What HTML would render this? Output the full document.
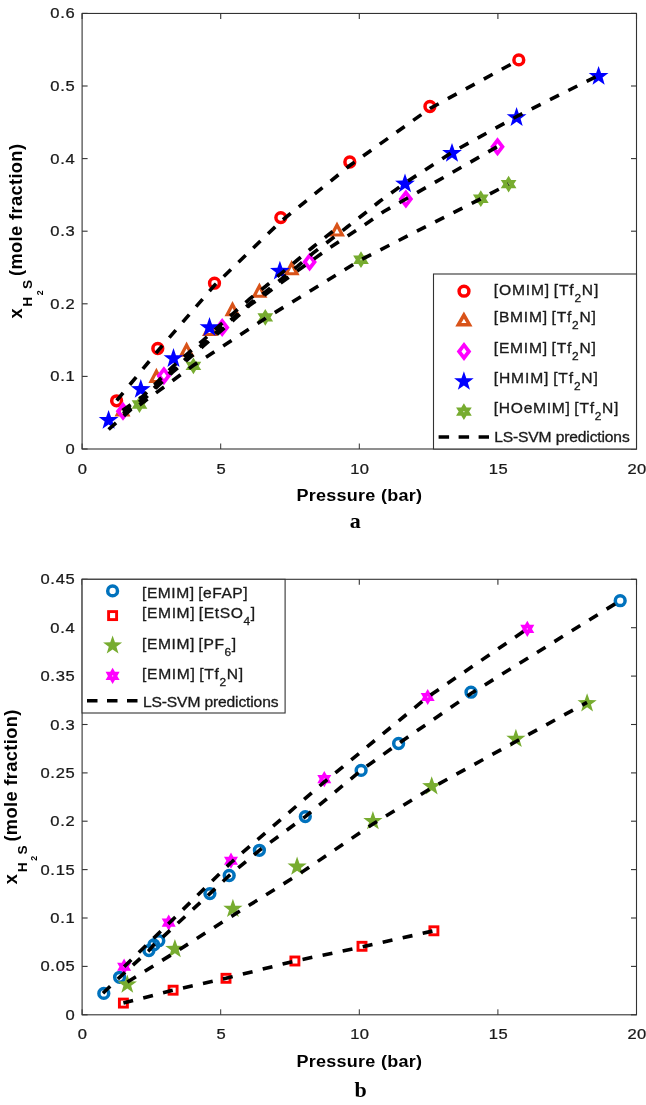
<!DOCTYPE html>
<html><head><meta charset="utf-8"><style>
html,body{margin:0;padding:0;background:#fff;}
body{width:646px;height:1105px;overflow:hidden;}
svg{display:block;will-change:transform;}
.tk{font-family:"Liberation Sans",sans-serif;font-size:13.8px;fill:#1a1a1a;letter-spacing:0.6px;stroke:#1a1a1a;stroke-width:0.25px;}
.tx{font-family:"Liberation Sans",sans-serif;font-size:13.8px;fill:#1a1a1a;letter-spacing:0.3px;stroke:#1a1a1a;stroke-width:0.25px;}
.lg{font-family:"Liberation Sans",sans-serif;font-size:14.2px;fill:#1a1a1a;stroke:#1a1a1a;stroke-width:0.3px;}
.lb{font-family:"Liberation Sans",sans-serif;font-size:16px;font-weight:bold;fill:#000;}
.cap{font-family:"Liberation Serif",serif;font-size:22px;font-weight:bold;fill:#000;}
</style></head><body>
<svg width="646" height="1105" viewBox="0 0 646 1105">
<rect width="646" height="1105" fill="#fff"/>
<rect x="82.1" y="13.45" width="554.40" height="435.55" fill="none" stroke="#333333" stroke-width="1.1"/>
<line x1="82.1" y1="449.0" x2="82.1" y2="443.5" stroke="#333333" stroke-width="1.0"/>
<line x1="82.1" y1="13.45" x2="82.1" y2="18.95" stroke="#333333" stroke-width="1.1"/>
<text transform="translate(82.6,473.6) scale(1.2,1)" text-anchor="middle" class="tx">0</text>
<line x1="220.7" y1="449.0" x2="220.7" y2="443.5" stroke="#333333" stroke-width="1.0"/>
<line x1="220.7" y1="13.45" x2="220.7" y2="18.95" stroke="#333333" stroke-width="1.1"/>
<text transform="translate(221.2,473.6) scale(1.2,1)" text-anchor="middle" class="tx">5</text>
<line x1="359.3" y1="449.0" x2="359.3" y2="443.5" stroke="#333333" stroke-width="1.0"/>
<line x1="359.3" y1="13.45" x2="359.3" y2="18.95" stroke="#333333" stroke-width="1.1"/>
<text transform="translate(359.8,473.6) scale(1.2,1)" text-anchor="middle" class="tx">10</text>
<line x1="497.9" y1="449.0" x2="497.9" y2="443.5" stroke="#333333" stroke-width="1.0"/>
<line x1="497.9" y1="13.45" x2="497.9" y2="18.95" stroke="#333333" stroke-width="1.1"/>
<text transform="translate(498.4,473.6) scale(1.2,1)" text-anchor="middle" class="tx">15</text>
<line x1="636.5" y1="449.0" x2="636.5" y2="443.5" stroke="#333333" stroke-width="1.0"/>
<line x1="636.5" y1="13.45" x2="636.5" y2="18.95" stroke="#333333" stroke-width="1.1"/>
<text transform="translate(637.0,473.6) scale(1.2,1)" text-anchor="middle" class="tx">20</text>
<line x1="82.1" y1="449.0" x2="87.6" y2="449.0" stroke="#333333" stroke-width="1.1"/>
<line x1="636.5" y1="449.0" x2="631.0" y2="449.0" stroke="#333333" stroke-width="1.1"/>
<text transform="translate(75.5,454.0) scale(1.2,1)" text-anchor="end" class="tk">0</text>
<line x1="82.1" y1="376.4" x2="87.6" y2="376.4" stroke="#333333" stroke-width="1.1"/>
<line x1="636.5" y1="376.4" x2="631.0" y2="376.4" stroke="#333333" stroke-width="1.1"/>
<text transform="translate(75.5,381.4) scale(1.2,1)" text-anchor="end" class="tk">0.1</text>
<line x1="82.1" y1="303.8" x2="87.6" y2="303.8" stroke="#333333" stroke-width="1.1"/>
<line x1="636.5" y1="303.8" x2="631.0" y2="303.8" stroke="#333333" stroke-width="1.1"/>
<text transform="translate(75.5,308.8) scale(1.2,1)" text-anchor="end" class="tk">0.2</text>
<line x1="82.1" y1="231.2" x2="87.6" y2="231.2" stroke="#333333" stroke-width="1.1"/>
<line x1="636.5" y1="231.2" x2="631.0" y2="231.2" stroke="#333333" stroke-width="1.1"/>
<text transform="translate(75.5,236.2) scale(1.2,1)" text-anchor="end" class="tk">0.3</text>
<line x1="82.1" y1="158.6" x2="87.6" y2="158.6" stroke="#333333" stroke-width="1.1"/>
<line x1="636.5" y1="158.6" x2="631.0" y2="158.6" stroke="#333333" stroke-width="1.1"/>
<text transform="translate(75.5,163.6) scale(1.2,1)" text-anchor="end" class="tk">0.4</text>
<line x1="82.1" y1="86.0" x2="87.6" y2="86.0" stroke="#333333" stroke-width="1.1"/>
<line x1="636.5" y1="86.0" x2="631.0" y2="86.0" stroke="#333333" stroke-width="1.1"/>
<text transform="translate(75.5,91.0) scale(1.2,1)" text-anchor="end" class="tk">0.5</text>
<line x1="82.1" y1="13.4" x2="87.6" y2="13.4" stroke="#333333" stroke-width="1.1"/>
<line x1="636.5" y1="13.4" x2="631.0" y2="13.4" stroke="#333333" stroke-width="1.1"/>
<text transform="translate(75.5,18.4) scale(1.2,1)" text-anchor="end" class="tk">0.6</text>
<circle cx="116.6" cy="400.8" r="4.9" fill="none" stroke="#FF0000" stroke-width="3.5"/>
<circle cx="157.8" cy="348.5" r="4.9" fill="none" stroke="#FF0000" stroke-width="3.5"/>
<circle cx="214.5" cy="283.2" r="4.9" fill="none" stroke="#FF0000" stroke-width="3.5"/>
<circle cx="280.8" cy="217.6" r="4.9" fill="none" stroke="#FF0000" stroke-width="3.5"/>
<circle cx="349.8" cy="162.0" r="4.9" fill="none" stroke="#FF0000" stroke-width="3.5"/>
<circle cx="429.9" cy="106.5" r="4.9" fill="none" stroke="#FF0000" stroke-width="3.5"/>
<circle cx="518.8" cy="59.9" r="4.9" fill="none" stroke="#FF0000" stroke-width="3.5"/>
<path d="M122.50,401.40 L114.50,416.60 L130.50,416.60Z M122.50,408.40 L119.80,413.60 L125.20,413.60Z" fill="#D95319" fill-rule="evenodd"/>
<path d="M156.40,367.80 L148.40,383.00 L164.40,383.00Z M156.40,374.80 L153.70,380.00 L159.10,380.00Z" fill="#D95319" fill-rule="evenodd"/>
<path d="M186.60,341.60 L178.60,356.80 L194.60,356.80Z M186.60,348.60 L183.90,353.80 L189.30,353.80Z" fill="#D95319" fill-rule="evenodd"/>
<path d="M210.00,320.90 L202.00,336.10 L218.00,336.10Z M210.00,327.90 L207.30,333.10 L212.70,333.10Z" fill="#D95319" fill-rule="evenodd"/>
<path d="M232.50,301.00 L224.50,316.20 L240.50,316.20Z M232.50,308.00 L229.80,313.20 L235.20,313.20Z" fill="#D95319" fill-rule="evenodd"/>
<path d="M259.40,282.50 L251.40,297.70 L267.40,297.70Z M259.40,289.50 L256.70,294.70 L262.10,294.70Z" fill="#D95319" fill-rule="evenodd"/>
<path d="M291.60,260.10 L283.60,275.30 L299.60,275.30Z M291.60,267.10 L288.90,272.30 L294.30,272.30Z" fill="#D95319" fill-rule="evenodd"/>
<path d="M337.00,221.40 L329.00,236.60 L345.00,236.60Z M337.00,228.40 L334.30,233.60 L339.70,233.60Z" fill="#D95319" fill-rule="evenodd"/>
<path d="M123.00,401.80 L130.30,411.30 L123.00,420.80 L115.70,411.30Z M123.00,407.90 L125.55,411.30 L123.00,414.70 L120.45,411.30Z" fill="#FF00FF" fill-rule="evenodd"/>
<path d="M163.90,366.20 L171.20,375.70 L163.90,385.20 L156.60,375.70Z M163.90,372.30 L166.45,375.70 L163.90,379.10 L161.35,375.70Z" fill="#FF00FF" fill-rule="evenodd"/>
<path d="M222.20,317.90 L229.50,327.40 L222.20,336.90 L214.90,327.40Z M222.20,324.00 L224.75,327.40 L222.20,330.80 L219.65,327.40Z" fill="#FF00FF" fill-rule="evenodd"/>
<path d="M309.60,252.40 L316.90,261.90 L309.60,271.40 L302.30,261.90Z M309.60,258.50 L312.15,261.90 L309.60,265.30 L307.05,261.90Z" fill="#FF00FF" fill-rule="evenodd"/>
<path d="M405.90,189.60 L413.20,199.10 L405.90,208.60 L398.60,199.10Z M405.90,195.70 L408.45,199.10 L405.90,202.50 L403.35,199.10Z" fill="#FF00FF" fill-rule="evenodd"/>
<path d="M497.50,137.30 L504.80,146.80 L497.50,156.30 L490.20,146.80Z M497.50,143.40 L500.05,146.80 L497.50,150.20 L494.95,146.80Z" fill="#FF00FF" fill-rule="evenodd"/>
<path d="M108.60,409.90 L111.05,416.93 L118.49,417.09 L112.56,421.59 L114.71,428.71 L108.60,424.46 L102.49,428.71 L104.64,421.59 L98.71,417.09 L106.15,416.93Z" fill="#0000FF"/>
<path d="M140.80,379.00 L143.25,386.03 L150.69,386.19 L144.76,390.69 L146.91,397.81 L140.80,393.56 L134.69,397.81 L136.84,390.69 L130.91,386.19 L138.35,386.03Z" fill="#0000FF"/>
<path d="M173.50,348.10 L175.95,355.13 L183.39,355.29 L177.46,359.79 L179.61,366.91 L173.50,362.66 L167.39,366.91 L169.54,359.79 L163.61,355.29 L171.05,355.13Z" fill="#0000FF"/>
<path d="M209.50,317.10 L211.95,324.13 L219.39,324.29 L213.46,328.79 L215.61,335.91 L209.50,331.66 L203.39,335.91 L205.54,328.79 L199.61,324.29 L207.05,324.13Z" fill="#0000FF"/>
<path d="M279.90,260.80 L282.35,267.83 L289.79,267.99 L283.86,272.49 L286.01,279.61 L279.90,275.36 L273.79,279.61 L275.94,272.49 L270.01,267.99 L277.45,267.83Z" fill="#0000FF"/>
<path d="M405.00,173.50 L407.45,180.53 L414.89,180.69 L408.96,185.19 L411.11,192.31 L405.00,188.06 L398.89,192.31 L401.04,185.19 L395.11,180.69 L402.55,180.53Z" fill="#0000FF"/>
<path d="M452.00,142.90 L454.45,149.93 L461.89,150.09 L455.96,154.59 L458.11,161.71 L452.00,157.46 L445.89,161.71 L448.04,154.59 L442.11,150.09 L449.55,149.93Z" fill="#0000FF"/>
<path d="M516.60,107.10 L519.05,114.13 L526.49,114.29 L520.56,118.79 L522.71,125.91 L516.60,121.66 L510.49,125.91 L512.64,118.79 L506.71,114.29 L514.15,114.13Z" fill="#0000FF"/>
<path d="M598.60,65.90 L601.05,72.93 L608.49,73.09 L602.56,77.59 L604.71,84.71 L598.60,80.46 L592.49,84.71 L594.64,77.59 L588.71,73.09 L596.15,72.93Z" fill="#0000FF"/>
<path d="M139.50,396.10 L142.12,400.30 L147.36,400.30 L144.73,404.50 L147.36,408.70 L142.12,408.70 L139.50,412.90 L136.88,408.70 L131.64,408.70 L134.27,404.50 L131.64,400.30 L136.88,400.30Z" fill="#77AC30"/><rect x="138.90" y="403.90" width="1.2" height="1.2" fill="#fff" opacity="0.8"/>
<path d="M193.40,357.50 L196.02,361.70 L201.26,361.70 L198.63,365.90 L201.26,370.10 L196.02,370.10 L193.40,374.30 L190.78,370.10 L185.54,370.10 L188.17,365.90 L185.54,361.70 L190.78,361.70Z" fill="#77AC30"/><rect x="192.80" y="365.30" width="1.2" height="1.2" fill="#fff" opacity="0.8"/>
<path d="M265.30,309.00 L267.92,313.20 L273.16,313.20 L270.53,317.40 L273.16,321.60 L267.92,321.60 L265.30,325.80 L262.68,321.60 L257.44,321.60 L260.07,317.40 L257.44,313.20 L262.68,313.20Z" fill="#77AC30"/><rect x="264.70" y="316.80" width="1.2" height="1.2" fill="#fff" opacity="0.8"/>
<path d="M361.00,251.30 L363.62,255.50 L368.86,255.50 L366.23,259.70 L368.86,263.90 L363.62,263.90 L361.00,268.10 L358.38,263.90 L353.14,263.90 L355.77,259.70 L353.14,255.50 L358.38,255.50Z" fill="#77AC30"/><rect x="360.40" y="259.10" width="1.2" height="1.2" fill="#fff" opacity="0.8"/>
<path d="M480.80,190.30 L483.42,194.50 L488.66,194.50 L486.03,198.70 L488.66,202.90 L483.42,202.90 L480.80,207.10 L478.18,202.90 L472.94,202.90 L475.57,198.70 L472.94,194.50 L478.18,194.50Z" fill="#77AC30"/><rect x="480.20" y="198.10" width="1.2" height="1.2" fill="#fff" opacity="0.8"/>
<path d="M508.60,175.70 L511.22,179.90 L516.46,179.90 L513.83,184.10 L516.46,188.30 L511.22,188.30 L508.60,192.50 L505.98,188.30 L500.74,188.30 L503.37,184.10 L500.74,179.90 L505.98,179.90Z" fill="#77AC30"/><rect x="508.00" y="183.50" width="1.2" height="1.2" fill="#fff" opacity="0.8"/>
<polyline points="116.7,400.5 158.2,350.5 214.5,285.3 280.8,221.5 349.8,165.5 429.9,108.5 518.8,60.0" fill="none" stroke="#000" stroke-width="3.6" stroke-dasharray="10.0 10.49" stroke-dashoffset="0.00"/>
<polyline points="122.5,410.5 143.2,396.0 172.3,367.0 203.4,340.0 234.7,312.0 250.0,298.6 266.0,286.0 297.4,260.0 313.0,247.0 337.0,228.0" fill="none" stroke="#000" stroke-width="3.6" stroke-dasharray="10.0 10.49" stroke-dashoffset="0.00"/>
<polyline points="123.0,413.5 143.2,400.0 172.3,372.5 203.4,346.0 234.7,319.0 250.0,305.0 266.0,294.0 297.4,270.8 313.0,259.7 330.0,247.5 352.9,232.6 369.5,221.5 383.5,211.7 405.9,199.0 497.5,146.6" fill="none" stroke="#000" stroke-width="3.6" stroke-dasharray="10.0 10.49" stroke-dashoffset="0.00"/>
<polyline points="108.6,429.5 143.2,398.5 172.3,370.5 203.4,343.5 234.7,316.5 250.0,303.5 266.0,291.5 297.4,266.3 313.0,253.1 329.0,241.0 347.5,226.8 363.3,214.5 379.5,201.5 405.0,183.0 452.0,152.3 516.6,116.5 598.6,75.3" fill="none" stroke="#000" stroke-width="3.6" stroke-dasharray="10.0 10.49" stroke-dashoffset="0.00"/>
<polyline points="139.5,405.0 193.2,365.5 265.3,318.5 361.0,259.7 480.8,198.7 508.6,184.1" fill="none" stroke="#000" stroke-width="3.6" stroke-dasharray="10.0 10.49" stroke-dashoffset="0.00"/>
<rect x="433.5" y="274.0" width="203.00" height="175.00" fill="#fff" stroke="#333333" stroke-width="1.1"/>
<circle cx="464.0" cy="291.2" r="4.9" fill="none" stroke="#FF0000" stroke-width="3.5"/>
<path d="M463.90,311.50 L455.30,326.60 L472.50,326.60Z M463.90,318.70 L461.35,322.90 L466.45,322.90Z" fill="#D95319" fill-rule="evenodd"/>
<path d="M464.00,341.90 L471.30,351.40 L464.00,360.90 L456.70,351.40Z M464.00,348.00 L466.55,351.40 L464.00,354.80 L461.45,351.40Z" fill="#FF00FF" fill-rule="evenodd"/>
<path d="M463.90,371.20 L466.32,378.17 L473.70,378.32 L467.82,382.77 L469.95,389.83 L463.90,385.62 L457.85,389.83 L459.98,382.77 L454.10,378.32 L461.48,378.17Z" fill="#0000FF"/>
<path d="M463.90,403.20 L466.52,407.40 L471.76,407.40 L469.13,411.60 L471.76,415.80 L466.52,415.80 L463.90,420.00 L461.28,415.80 L456.04,415.80 L458.67,411.60 L456.04,407.40 L461.28,407.40Z" fill="#77AC30"/><rect x="463.30" y="411.00" width="1.2" height="1.2" fill="#fff" opacity="0.8"/>
<line x1="438.6" y1="437" x2="489" y2="437" stroke="#000" stroke-width="3.6" stroke-dasharray="10.5 9.5"/>
<text transform="translate(493.8,294.5) scale(1.1,1)" class="lg" textLength="95.00" lengthAdjust="spacing">[OMIM] [Tf<tspan dy="7" font-size="10.8">2</tspan><tspan dy="-7">N]</tspan></text>
<text transform="translate(493.8,322.2) scale(1.1,1)" class="lg" textLength="92.73" lengthAdjust="spacing">[BMIM] [Tf<tspan dy="7" font-size="10.8">2</tspan><tspan dy="-7">N]</tspan></text>
<text transform="translate(493.8,352.8) scale(1.1,1)" class="lg" textLength="92.73" lengthAdjust="spacing">[EMIM] [Tf<tspan dy="7" font-size="10.8">2</tspan><tspan dy="-7">N]</tspan></text>
<text transform="translate(493.8,382.6) scale(1.1,1)" class="lg" textLength="94.55" lengthAdjust="spacing">[HMIM] [Tf<tspan dy="7" font-size="10.8">2</tspan><tspan dy="-7">N]</tspan></text>
<text transform="translate(493.8,413.2) scale(1.1,1)" class="lg" textLength="113.18" lengthAdjust="spacing">[HOeMIM] [Tf<tspan dy="7" font-size="10.8">2</tspan><tspan dy="-7">N]</tspan></text>
<text transform="translate(494.2,442.4) scale(1.1,1)" class="lg" textLength="123.18" lengthAdjust="spacing">LS-SVM predictions</text>
<text transform="translate(359.2,501) scale(1.1,1)" text-anchor="middle" class="lb" style="font-size:16.4px" textLength="114.09" lengthAdjust="spacing">Pressure (bar)</text>
<text x="355.3" y="528" text-anchor="middle" class="cap">a</text>
<text transform="translate(22.2,318.6) rotate(-90)" class="lb" style="font-size:18.3px" >x</text>
<text transform="translate(32.2,306.7) rotate(-90)" class="lb" style="font-size:13.7px" >H</text>
<text transform="translate(42.6,295.2) rotate(-90)" class="lb" style="font-size:8.8px" >2</text>
<text transform="translate(32.2,289.0) rotate(-90)" class="lb" style="font-size:13.7px" >S</text>
<text transform="translate(22.2,276.0) rotate(-90)" class="lb" style="font-size:18.3px" textLength="132" lengthAdjust="spacing">(mole fraction)</text>
<rect x="82.1" y="579.3" width="554.40" height="435.50" fill="none" stroke="#333333" stroke-width="1.1"/>
<line x1="82.1" y1="1014.8" x2="82.1" y2="1009.3" stroke="#333333" stroke-width="1.0"/>
<line x1="82.1" y1="579.3" x2="82.1" y2="584.8" stroke="#333333" stroke-width="1.1"/>
<text transform="translate(82.6,1039.3999999999999) scale(1.2,1)" text-anchor="middle" class="tx">0</text>
<line x1="220.7" y1="1014.8" x2="220.7" y2="1009.3" stroke="#333333" stroke-width="1.0"/>
<line x1="220.7" y1="579.3" x2="220.7" y2="584.8" stroke="#333333" stroke-width="1.1"/>
<text transform="translate(221.2,1039.3999999999999) scale(1.2,1)" text-anchor="middle" class="tx">5</text>
<line x1="359.3" y1="1014.8" x2="359.3" y2="1009.3" stroke="#333333" stroke-width="1.0"/>
<line x1="359.3" y1="579.3" x2="359.3" y2="584.8" stroke="#333333" stroke-width="1.1"/>
<text transform="translate(359.8,1039.3999999999999) scale(1.2,1)" text-anchor="middle" class="tx">10</text>
<line x1="497.9" y1="1014.8" x2="497.9" y2="1009.3" stroke="#333333" stroke-width="1.0"/>
<line x1="497.9" y1="579.3" x2="497.9" y2="584.8" stroke="#333333" stroke-width="1.1"/>
<text transform="translate(498.4,1039.3999999999999) scale(1.2,1)" text-anchor="middle" class="tx">15</text>
<line x1="636.5" y1="1014.8" x2="636.5" y2="1009.3" stroke="#333333" stroke-width="1.0"/>
<line x1="636.5" y1="579.3" x2="636.5" y2="584.8" stroke="#333333" stroke-width="1.1"/>
<text transform="translate(637.0,1039.3999999999999) scale(1.2,1)" text-anchor="middle" class="tx">20</text>
<line x1="82.1" y1="1014.8" x2="87.6" y2="1014.8" stroke="#333333" stroke-width="1.1"/>
<line x1="636.5" y1="1014.8" x2="631.0" y2="1014.8" stroke="#333333" stroke-width="1.1"/>
<text transform="translate(75.5,1019.8) scale(1.2,1)" text-anchor="end" class="tk">0</text>
<line x1="82.1" y1="966.4" x2="87.6" y2="966.4" stroke="#333333" stroke-width="1.1"/>
<line x1="636.5" y1="966.4" x2="631.0" y2="966.4" stroke="#333333" stroke-width="1.1"/>
<text transform="translate(75.5,971.4) scale(1.2,1)" text-anchor="end" class="tk">0.05</text>
<line x1="82.1" y1="918.0" x2="87.6" y2="918.0" stroke="#333333" stroke-width="1.1"/>
<line x1="636.5" y1="918.0" x2="631.0" y2="918.0" stroke="#333333" stroke-width="1.1"/>
<text transform="translate(75.5,923.0) scale(1.2,1)" text-anchor="end" class="tk">0.1</text>
<line x1="82.1" y1="869.6" x2="87.6" y2="869.6" stroke="#333333" stroke-width="1.1"/>
<line x1="636.5" y1="869.6" x2="631.0" y2="869.6" stroke="#333333" stroke-width="1.1"/>
<text transform="translate(75.5,874.6) scale(1.2,1)" text-anchor="end" class="tk">0.15</text>
<line x1="82.1" y1="821.2" x2="87.6" y2="821.2" stroke="#333333" stroke-width="1.1"/>
<line x1="636.5" y1="821.2" x2="631.0" y2="821.2" stroke="#333333" stroke-width="1.1"/>
<text transform="translate(75.5,826.2) scale(1.2,1)" text-anchor="end" class="tk">0.2</text>
<line x1="82.1" y1="772.9" x2="87.6" y2="772.9" stroke="#333333" stroke-width="1.1"/>
<line x1="636.5" y1="772.9" x2="631.0" y2="772.9" stroke="#333333" stroke-width="1.1"/>
<text transform="translate(75.5,777.9) scale(1.2,1)" text-anchor="end" class="tk">0.25</text>
<line x1="82.1" y1="724.5" x2="87.6" y2="724.5" stroke="#333333" stroke-width="1.1"/>
<line x1="636.5" y1="724.5" x2="631.0" y2="724.5" stroke="#333333" stroke-width="1.1"/>
<text transform="translate(75.5,729.5) scale(1.2,1)" text-anchor="end" class="tk">0.3</text>
<line x1="82.1" y1="676.1" x2="87.6" y2="676.1" stroke="#333333" stroke-width="1.1"/>
<line x1="636.5" y1="676.1" x2="631.0" y2="676.1" stroke="#333333" stroke-width="1.1"/>
<text transform="translate(75.5,681.1) scale(1.2,1)" text-anchor="end" class="tk">0.35</text>
<line x1="82.1" y1="627.7" x2="87.6" y2="627.7" stroke="#333333" stroke-width="1.1"/>
<line x1="636.5" y1="627.7" x2="631.0" y2="627.7" stroke="#333333" stroke-width="1.1"/>
<text transform="translate(75.5,632.7) scale(1.2,1)" text-anchor="end" class="tk">0.4</text>
<line x1="82.1" y1="579.3" x2="87.6" y2="579.3" stroke="#333333" stroke-width="1.1"/>
<line x1="636.5" y1="579.3" x2="631.0" y2="579.3" stroke="#333333" stroke-width="1.1"/>
<text transform="translate(75.5,584.3) scale(1.2,1)" text-anchor="end" class="tk">0.45</text>
<circle cx="103.8" cy="993.4" r="4.9" fill="none" stroke="#0072BD" stroke-width="3.5"/>
<circle cx="119.6" cy="977.3" r="4.9" fill="none" stroke="#0072BD" stroke-width="3.5"/>
<circle cx="148.9" cy="950.6" r="4.9" fill="none" stroke="#0072BD" stroke-width="3.5"/>
<circle cx="153.8" cy="944.9" r="4.9" fill="none" stroke="#0072BD" stroke-width="3.5"/>
<circle cx="158.8" cy="940.7" r="4.9" fill="none" stroke="#0072BD" stroke-width="3.5"/>
<circle cx="209.9" cy="893.6" r="4.9" fill="none" stroke="#0072BD" stroke-width="3.5"/>
<circle cx="229.2" cy="875.5" r="4.9" fill="none" stroke="#0072BD" stroke-width="3.5"/>
<circle cx="259.4" cy="850.3" r="4.9" fill="none" stroke="#0072BD" stroke-width="3.5"/>
<circle cx="305.3" cy="816.6" r="4.9" fill="none" stroke="#0072BD" stroke-width="3.5"/>
<circle cx="361.1" cy="770.4" r="4.9" fill="none" stroke="#0072BD" stroke-width="3.5"/>
<circle cx="398.6" cy="743.5" r="4.9" fill="none" stroke="#0072BD" stroke-width="3.5"/>
<circle cx="471.0" cy="692.2" r="4.9" fill="none" stroke="#0072BD" stroke-width="3.5"/>
<circle cx="620.2" cy="600.7" r="4.9" fill="none" stroke="#0072BD" stroke-width="3.5"/>
<rect x="119.40" y="999.10" width="8.0" height="8.0" fill="none" stroke="#FF0000" stroke-width="2.9"/>
<rect x="169.10" y="986.20" width="8.0" height="8.0" fill="none" stroke="#FF0000" stroke-width="2.9"/>
<rect x="222.00" y="974.30" width="8.0" height="8.0" fill="none" stroke="#FF0000" stroke-width="2.9"/>
<rect x="290.90" y="957.00" width="8.0" height="8.0" fill="none" stroke="#FF0000" stroke-width="2.9"/>
<rect x="358.00" y="942.30" width="8.0" height="8.0" fill="none" stroke="#FF0000" stroke-width="2.9"/>
<rect x="429.90" y="926.80" width="8.0" height="8.0" fill="none" stroke="#FF0000" stroke-width="2.9"/>
<path d="M127.30,974.40 L129.67,981.23 L136.91,981.38 L131.14,985.75 L133.24,992.67 L127.30,988.54 L121.36,992.67 L123.46,985.75 L117.69,981.38 L124.93,981.23Z" fill="#77AC30"/>
<path d="M174.90,939.00 L177.27,945.83 L184.51,945.98 L178.74,950.35 L180.84,957.27 L174.90,953.14 L168.96,957.27 L171.06,950.35 L165.29,945.98 L172.53,945.83Z" fill="#77AC30"/>
<path d="M232.90,898.80 L235.27,905.63 L242.51,905.78 L236.74,910.15 L238.84,917.07 L232.90,912.94 L226.96,917.07 L229.06,910.15 L223.29,905.78 L230.53,905.63Z" fill="#77AC30"/>
<path d="M297.10,856.60 L299.47,863.43 L306.71,863.58 L300.94,867.95 L303.04,874.87 L297.10,870.74 L291.16,874.87 L293.26,867.95 L287.49,863.58 L294.73,863.43Z" fill="#77AC30"/>
<path d="M372.90,811.10 L375.27,817.93 L382.51,818.08 L376.74,822.45 L378.84,829.37 L372.90,825.24 L366.96,829.37 L369.06,822.45 L363.29,818.08 L370.53,817.93Z" fill="#77AC30"/>
<path d="M431.70,776.20 L434.07,783.03 L441.31,783.18 L435.54,787.55 L437.64,794.47 L431.70,790.34 L425.76,794.47 L427.86,787.55 L422.09,783.18 L429.33,783.03Z" fill="#77AC30"/>
<path d="M515.90,728.80 L518.27,735.63 L525.51,735.78 L519.74,740.15 L521.84,747.07 L515.90,742.94 L509.96,747.07 L512.06,740.15 L506.29,735.78 L513.53,735.63Z" fill="#77AC30"/>
<path d="M587.10,693.20 L589.47,700.03 L596.71,700.18 L590.94,704.55 L593.04,711.47 L587.10,707.34 L581.16,711.47 L583.26,704.55 L577.49,700.18 L584.73,700.03Z" fill="#77AC30"/>
<path d="M124.10,958.60 L126.44,962.65 L131.11,962.65 L128.77,966.70 L131.11,970.75 L126.44,970.75 L124.10,974.80 L121.76,970.75 L117.09,970.75 L119.43,966.70 L117.09,962.65 L121.76,962.65Z" fill="#FF00FF"/><rect x="123.50" y="966.10" width="1.2" height="1.2" fill="#fff" opacity="0.8"/>
<path d="M168.70,914.50 L171.04,918.55 L175.71,918.55 L173.37,922.60 L175.71,926.65 L171.04,926.65 L168.70,930.70 L166.36,926.65 L161.69,926.65 L164.03,922.60 L161.69,918.55 L166.36,918.55Z" fill="#FF00FF"/><rect x="168.10" y="922.00" width="1.2" height="1.2" fill="#fff" opacity="0.8"/>
<path d="M231.00,852.60 L233.34,856.65 L238.01,856.65 L235.67,860.70 L238.01,864.75 L233.34,864.75 L231.00,868.80 L228.66,864.75 L223.99,864.75 L226.33,860.70 L223.99,856.65 L228.66,856.65Z" fill="#FF00FF"/><rect x="230.40" y="860.10" width="1.2" height="1.2" fill="#fff" opacity="0.8"/>
<path d="M324.30,771.00 L326.64,775.05 L331.31,775.05 L328.97,779.10 L331.31,783.15 L326.64,783.15 L324.30,787.20 L321.96,783.15 L317.29,783.15 L319.63,779.10 L317.29,775.05 L321.96,775.05Z" fill="#FF00FF"/><rect x="323.70" y="778.50" width="1.2" height="1.2" fill="#fff" opacity="0.8"/>
<path d="M427.70,688.90 L430.04,692.95 L434.71,692.95 L432.37,697.00 L434.71,701.05 L430.04,701.05 L427.70,705.10 L425.36,701.05 L420.69,701.05 L423.03,697.00 L420.69,692.95 L425.36,692.95Z" fill="#FF00FF"/><rect x="427.10" y="696.40" width="1.2" height="1.2" fill="#fff" opacity="0.8"/>
<path d="M527.30,620.80 L529.64,624.85 L534.31,624.85 L531.97,628.90 L534.31,632.95 L529.64,632.95 L527.30,637.00 L524.96,632.95 L520.29,632.95 L522.63,628.90 L520.29,624.85 L524.96,624.85Z" fill="#FF00FF"/><rect x="526.70" y="628.30" width="1.2" height="1.2" fill="#fff" opacity="0.8"/>
<polyline points="103.0,993.2 119.6,977.3 148.9,950.6 153.8,944.9 158.8,940.7 209.9,893.6 229.2,875.5 259.4,850.3 305.3,816.6 361.1,770.4 398.6,743.5 471.0,693.5 620.2,600.7" fill="none" stroke="#000" stroke-width="3.6" stroke-dasharray="10.0 10.49" stroke-dashoffset="0.00"/>
<polyline points="123.4,1003.1 173.1,990.2 226.0,978.3 294.9,961.0 362.2,946.9 433.9,930.8" fill="none" stroke="#000" stroke-width="3.6" stroke-dasharray="10.0 10.49" stroke-dashoffset="0.00"/>
<polyline points="127.4,982.0 174.9,952.5 232.9,915.4 297.1,875.4 372.9,824.0 431.7,787.8 515.9,741.5 587.0,702.4" fill="none" stroke="#000" stroke-width="3.6" stroke-dasharray="10.0 10.49" stroke-dashoffset="0.00"/>
<polyline points="124.1,966.7 168.7,923.5 231.0,862.5 324.3,782.0 427.7,697.0 527.3,628.9" fill="none" stroke="#000" stroke-width="3.6" stroke-dasharray="10.0 10.49" stroke-dashoffset="0.00"/>
<rect x="82.1" y="579.3" width="203.00" height="133.70" fill="#fff" stroke="#333333" stroke-width="1.1"/>
<circle cx="112.6" cy="590.9" r="4.9" fill="none" stroke="#0072BD" stroke-width="3.5"/>
<rect x="108.60" y="611.60" width="8.0" height="8.0" fill="none" stroke="#FF0000" stroke-width="2.9"/>
<path d="M112.60,635.50 L114.95,642.26 L122.11,642.41 L116.40,646.74 L118.48,653.59 L112.60,649.50 L106.72,653.59 L108.80,646.74 L103.09,642.41 L110.25,642.26Z" fill="#77AC30"/>
<path d="M112.60,667.80 L114.94,671.85 L119.61,671.85 L117.27,675.90 L119.61,679.95 L114.94,679.95 L112.60,684.00 L110.26,679.95 L105.59,679.95 L107.93,675.90 L105.59,671.85 L110.26,671.85Z" fill="#FF00FF"/><rect x="112.00" y="675.30" width="1.2" height="1.2" fill="#fff" opacity="0.8"/>
<line x1="87" y1="700.7" x2="138.2" y2="700.7" stroke="#000" stroke-width="3.6" stroke-dasharray="10.5 9.5"/>
<text transform="translate(142.1,597.5) scale(1.1,1)" class="lg" textLength="95.91" lengthAdjust="spacing">[EMIM] [eFAP]</text>
<text transform="translate(142.1,617.8) scale(1.1,1)" class="lg" textLength="102.73" lengthAdjust="spacing">[EMIM] [EtSO<tspan dy="7" font-size="10.8">4</tspan><tspan dy="-7">]</tspan></text>
<text transform="translate(142.1,649) scale(1.1,1)" class="lg" textLength="85.45" lengthAdjust="spacing">[EMIM] [PF<tspan dy="7" font-size="10.8">6</tspan><tspan dy="-7">]</tspan></text>
<text transform="translate(142.1,678.8) scale(1.1,1)" class="lg" textLength="91.82" lengthAdjust="spacing">[EMIM] [Tf<tspan dy="7" font-size="10.8">2</tspan><tspan dy="-7">N]</tspan></text>
<text transform="translate(143,706.6) scale(1.1,1)" class="lg" textLength="123.18" lengthAdjust="spacing">LS-SVM predictions</text>
<text transform="translate(359.2,1066.6) scale(1.1,1)" text-anchor="middle" class="lb" style="font-size:16.4px" textLength="114.09" lengthAdjust="spacing">Pressure (bar)</text>
<text x="360.6" y="1097.4" text-anchor="middle" class="cap">b</text>
<text transform="translate(16.7,884.2) rotate(-90)" class="lb" style="font-size:18.3px" >x</text>
<text transform="translate(26.7,872.3) rotate(-90)" class="lb" style="font-size:13.7px" >H</text>
<text transform="translate(37.1,860.8) rotate(-90)" class="lb" style="font-size:8.8px" >2</text>
<text transform="translate(26.7,854.6) rotate(-90)" class="lb" style="font-size:13.7px" >S</text>
<text transform="translate(16.7,841.6) rotate(-90)" class="lb" style="font-size:18.3px" textLength="132" lengthAdjust="spacing">(mole fraction)</text>
</svg></body></html>
